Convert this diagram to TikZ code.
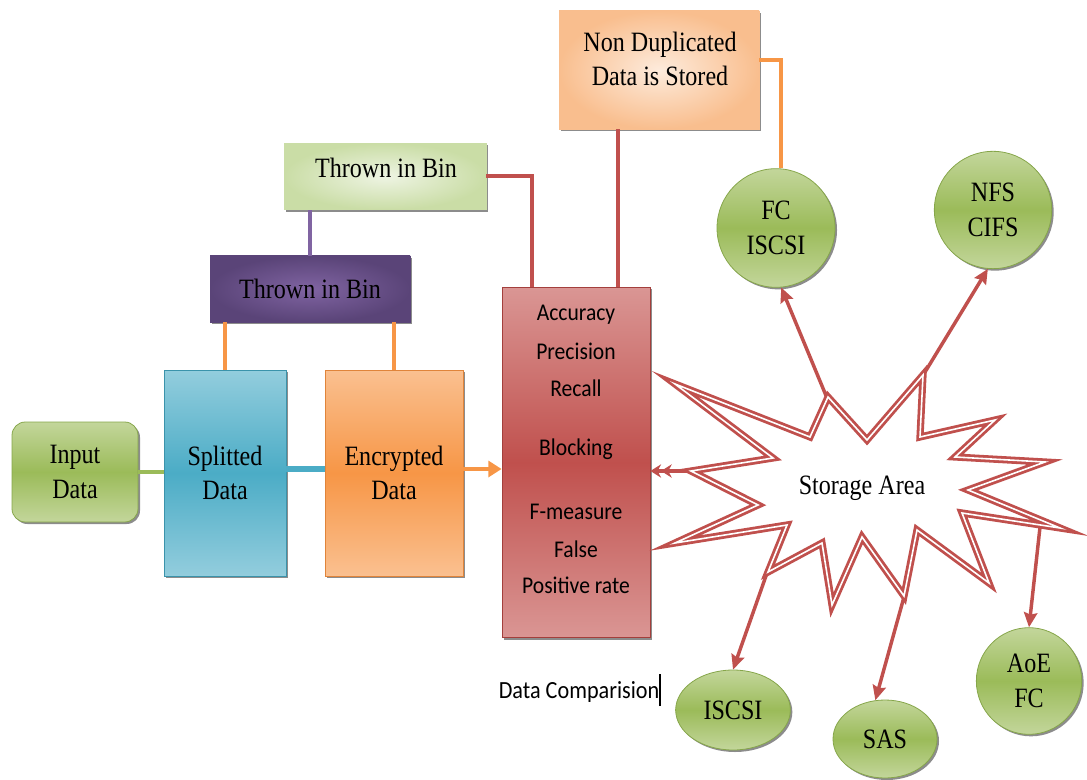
\documentclass[tikz,border=0pt]{standalone}
\usepackage{fontspec}
\setmainfont{Liberation Serif}[FakeStretch=0.86]
\newfontfamily\calib{Carlito}[FakeStretch=0.9]
\usetikzlibrary{shadows,arrows.meta,calc,shapes.geometric}
\definecolor{cred}{HTML}{C0504D}
\definecolor{credl}{HTML}{DA9694}
\definecolor{credb}{HTML}{A33F3C}
\definecolor{corange}{HTML}{F79646}
\definecolor{corangel}{HTML}{FAC090}
\definecolor{corangeb}{HTML}{E0843A}
\definecolor{cgreen}{HTML}{9BBB59}
\definecolor{cgreenl}{HTML}{C3D69B}
\definecolor{cgreenb}{HTML}{86A64A}
\definecolor{cblue}{HTML}{4BACC6}
\definecolor{cbluel}{HTML}{93CDDD}
\definecolor{cblueb}{HTML}{3B93AB}
\definecolor{cpurple}{HTML}{8064A2}
\definecolor{cpurpled}{HTML}{5A4478}
\definecolor{cpale}{HTML}{EEF4E3}
\definecolor{cpaleo}{HTML}{CADDA6}
\definecolor{cnd}{HTML}{FDEBDC}
\definecolor{cndo}{HTML}{F9BE8E}
\begin{document}
\begin{tikzpicture}[x=0.75pt,y=-0.75pt,
  shad/.style={drop shadow={shadow xshift=1.5pt,shadow yshift=-1.5pt,opacity=0.45,fill=black}},
  box/.style={rectangle,inner sep=0pt,shad,line width=0.6pt,align=center,
    font=\fontsize{21}{26}\selectfont},
  txt/.style={inner sep=0pt,align=center,font=\fontsize{21}{26}\selectfont},
  mtxt/.style={inner sep=0pt,font=\calib\fontsize{18}{22}\selectfont},
  circ/.style={ellipse,inner sep=0pt,shad,draw=cgreenb,line width=0.6pt,
    top color=cgreenl,bottom color=cgreenl,middle color=cgreen,align=center,
    font=\fontsize{21}{26}\selectfont},
  link/.style={line width=3pt},
  rarrow/.style={draw=cred,line width=2.6pt,-{Stealth[length=11pt,width=10pt,inset=1.5pt]}},
  starline/.style={draw=cred,line width=2.1pt,double=white,double distance=1.2pt,fill=white,line join=miter}
]
\useasboundingbox (0,0) rectangle (1087,780);

% boxes
\node[box,draw=cgreenb,rounded corners=10pt,top color=cgreenl,bottom color=cgreenl,middle color=cgreen,
  minimum width=94.5pt,minimum height=75pt] (input) at (75,472) {Input\\Data};
\node[box,draw=cblueb,top color=cbluel,bottom color=cbluel,middle color=cblue,
  minimum width=91.5pt,minimum height=154.5pt] (split) at (225,473) {Splitted\\Data};
\node[box,draw=corangeb,top color=corangel,bottom color=corangel,middle color=corange,
  minimum width=103.5pt,minimum height=154.5pt] (enc) at (394,473) {Encrypted\\Data};
\node[box,draw=credb,top color=credl,bottom color=credl,middle color=cred,
  minimum width=111pt,minimum height=263pt] (red) at (576,462.5) {};
\node[box,draw=cpurpled,inner color=cpurple,outer color=cpurpled,
  minimum width=150pt,minimum height=49.5pt] (purple) at (310,289) {Thrown in Bin};
\node[box,draw=cpaleo,inner color=cpale,outer color=cpaleo,
  minimum width=151.5pt,minimum height=50pt] (topg) at (385,176.5) {};
\node[txt] (topgt) at (386,168) {Thrown in Bin};
\node[box,draw=cndo,inner color=cnd,outer color=cndo,
  minimum width=150pt,minimum height=88.5pt] (nondup) at (659,70) {};
\node[txt] (nondupt) at (660,59) {Non Duplicated\\Data is Stored};

% metrics text
\node[mtxt] (m1) at (576,315) {Accuracy};
\node[mtxt] (m2) at (576,351) {Precision};
\node[mtxt] (m3) at (576,388) {Recall};
\node[mtxt] (m4) at (576,449) {Blocking};
\node[mtxt] (m5) at (576,512) {F-measure};
\node[mtxt] (m6) at (576,549) {False};
\node[mtxt] (m7) at (576,585) {Positive rate};
\node[inner sep=0pt,font=\calib\fontsize{18.5}{22}\selectfont] (dc) at (580,690)
  {Data Comparision\rule[-0.3em]{1.4pt}{1.3em}};

% circles
\node[circ,minimum width=88.5pt,minimum height=89pt] (fc) at (776,228) {FC\\ISCSI};
\node[circ,minimum width=88pt,minimum height=88pt] (nfs) at (993,210) {NFS\\CIFS};
\node[circ,minimum width=86pt,minimum height=60pt] (iscsi) at (733,710) {ISCSI};
\node[circ,minimum width=78pt,minimum height=58.5pt] (sas) at (885,739) {SAS};
\node[circ,minimum width=79pt,minimum height=80pt] (aoe) at (1029,681) {AoE\\FC};

% connectors between boxes
\draw[link,draw=cgreen] (input.east) -- (input.east -| split.west);
\draw[line width=4.5pt,draw=cblue] ([yshift=3pt]split.east) -- ([yshift=3pt]enc.west);
\draw[link,draw=corange,-{Triangle[length=10pt,width=12pt]}] ([yshift=3pt]enc.east) -- ([yshift=3pt]enc.east -| red.west);
\draw[link,draw=corange] (purple.south -| split.north) -- (split.north);
\draw[link,draw=corange] (purple.south -| enc.north) -- (enc.north);
\draw[link,draw=cpurple] (topg.south -| purple.north) -- (purple.north);
\coordinate (redA) at ($(red.north west)+(30,0)$);
\coordinate (redB) at ($(red.north west)+(116,0)$);
\draw[link,draw=cred] (topg.east) -| (redA);
\draw[link,draw=cred] (nondup.south -| redB) -- (redB);
\draw[link,draw=corange] ([yshift=7.5pt]nondup.east) -| ([xshift=3.75pt]fc.north);

% star tips
\coordinate (tL) at (690,471);
\coordinate (tFC) at (827,398);
\coordinate (tNFS) at (922,377);
\coordinate (tIS) at (767,573);
\coordinate (tSAS) at (904,597);
\coordinate (tAOE) at (1040,527);

\draw[rarrow] (tFC) -- (fc.275);
\draw[rarrow] (tNFS) -- (nfs.265);
\draw[rarrow] (tIS) -- (iscsi.north);
\draw[rarrow] (tSAS) -- (sas.104);
\draw[rarrow] (tAOE) -- (aoe.north);
\draw[draw=cred,line width=2.6pt,-{Stealth[length=8pt,width=10pt]Stealth[length=8pt,width=10pt]}] (tL) -- (tL -| red.east);

% star
\path[starline] (675,384) -- (810,437) -- (828,397) -- (867,440) -- (923,375) -- (920,437)
  -- (995,420) -- (955,457) -- (1045,462) -- (968,490) -- (1060,528) -- (962,513)
  -- (989,583) -- (917,530) -- (904,596) -- (862,537) -- (832,605) -- (822,543)
  -- (768,572) -- (787,525) -- (675,543) -- (758,505) -- (691,471) -- (773,458) -- cycle;
\node[txt] (storage) at (862,488) {Storage Area};
\end{tikzpicture}
\end{document}
